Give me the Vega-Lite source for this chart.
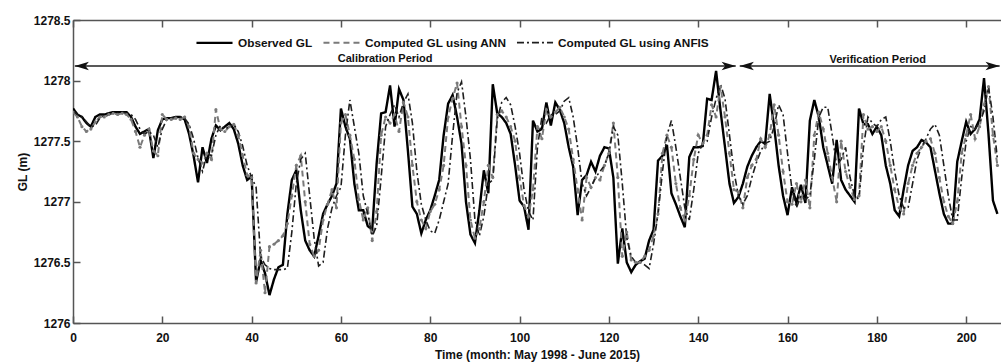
{
"$schema": "https://vega.github.io/schema/vega-lite/v6.json",
"width": 928, "height": 303,
"autosize": {"type": "none"},
"padding": {"left": 73, "top": 20, "right": 0, "bottom": 40},
"background": "white",
"config": {"view": {"stroke": null}, "font": "Liberation Sans",
 "axis": {"labelFont": "Liberation Sans", "labelFontWeight": "bold", "labelFontSize": 12, "labelColor": "#111", "titleFont": "Liberation Sans", "titleFontWeight": "bold", "titleFontSize": 12, "titleColor": "#111", "domainColor": "#555", "domainWidth": 1.5, "tickColor": "#555", "tickWidth": 1.5, "grid": false}},
"datasets": {
"gl": [
{"t":0,"obs":1277.77,"ann":1277.74,"anfis":1277.75},
{"t":1,"obs":1277.72,"ann":1277.70,"anfis":1277.72},
{"t":2,"obs":1277.70,"ann":1277.62,"anfis":1277.70},
{"t":3,"obs":1277.65,"ann":1277.58,"anfis":1277.66},
{"t":4,"obs":1277.62,"ann":1277.60,"anfis":1277.62},
{"t":5,"obs":1277.70,"ann":1277.66,"anfis":1277.63},
{"t":6,"obs":1277.72,"ann":1277.70,"anfis":1277.69},
{"t":7,"obs":1277.72,"ann":1277.70,"anfis":1277.71},
{"t":8,"obs":1277.73,"ann":1277.72,"anfis":1277.72},
{"t":9,"obs":1277.74,"ann":1277.73,"anfis":1277.73},
{"t":10,"obs":1277.74,"ann":1277.72,"anfis":1277.73},
{"t":11,"obs":1277.74,"ann":1277.73,"anfis":1277.74},
{"t":12,"obs":1277.74,"ann":1277.72,"anfis":1277.73},
{"t":13,"obs":1277.70,"ann":1277.68,"anfis":1277.72},
{"t":14,"obs":1277.62,"ann":1277.58,"anfis":1277.68},
{"t":15,"obs":1277.56,"ann":1277.45,"anfis":1277.60},
{"t":16,"obs":1277.58,"ann":1277.55,"anfis":1277.56},
{"t":17,"obs":1277.60,"ann":1277.60,"anfis":1277.58},
{"t":18,"obs":1277.36,"ann":1277.42,"anfis":1277.55},
{"t":19,"obs":1277.59,"ann":1277.38,"anfis":1277.45},
{"t":20,"obs":1277.68,"ann":1277.72,"anfis":1277.60},
{"t":21,"obs":1277.69,"ann":1277.68,"anfis":1277.68},
{"t":22,"obs":1277.69,"ann":1277.68,"anfis":1277.69},
{"t":23,"obs":1277.70,"ann":1277.69,"anfis":1277.70},
{"t":24,"obs":1277.70,"ann":1277.68,"anfis":1277.70},
{"t":25,"obs":1277.68,"ann":1277.70,"anfis":1277.69},
{"t":26,"obs":1277.56,"ann":1277.62,"anfis":1277.64},
{"t":27,"obs":1277.38,"ann":1277.40,"anfis":1277.52},
{"t":28,"obs":1277.16,"ann":1277.35,"anfis":1277.36},
{"t":29,"obs":1277.45,"ann":1277.32,"anfis":1277.25},
{"t":30,"obs":1277.32,"ann":1277.40,"anfis":1277.40},
{"t":31,"obs":1277.52,"ann":1277.35,"anfis":1277.38},
{"t":32,"obs":1277.63,"ann":1277.76,"anfis":1277.55},
{"t":33,"obs":1277.59,"ann":1277.60,"anfis":1277.63},
{"t":34,"obs":1277.62,"ann":1277.58,"anfis":1277.60},
{"t":35,"obs":1277.65,"ann":1277.62,"anfis":1277.62},
{"t":36,"obs":1277.60,"ann":1277.64,"anfis":1277.64},
{"t":37,"obs":1277.48,"ann":1277.55,"anfis":1277.58},
{"t":38,"obs":1277.30,"ann":1277.38,"anfis":1277.46},
{"t":39,"obs":1277.18,"ann":1277.22,"anfis":1277.30},
{"t":40,"obs":1277.21,"ann":1277.20,"anfis":1277.20},
{"t":41,"obs":1276.34,"ann":1276.33,"anfis":1277.12},
{"t":42,"obs":1276.52,"ann":1276.60,"anfis":1276.55},
{"t":43,"obs":1276.41,"ann":1276.25,"anfis":1276.48},
{"t":44,"obs":1276.23,"ann":1276.63,"anfis":1276.45},
{"t":45,"obs":1276.36,"ann":1276.65,"anfis":1276.44},
{"t":46,"obs":1276.46,"ann":1276.68,"anfis":1276.44},
{"t":47,"obs":1276.48,"ann":1276.72,"anfis":1276.44},
{"t":48,"obs":1276.90,"ann":1276.82,"anfis":1276.45},
{"t":49,"obs":1277.18,"ann":1277.05,"anfis":1276.75},
{"t":50,"obs":1277.26,"ann":1277.30,"anfis":1277.15},
{"t":51,"obs":1276.93,"ann":1277.38,"anfis":1277.35},
{"t":52,"obs":1276.68,"ann":1277.00,"anfis":1277.40},
{"t":53,"obs":1276.60,"ann":1276.65,"anfis":1277.05},
{"t":54,"obs":1276.55,"ann":1276.55,"anfis":1276.70},
{"t":55,"obs":1276.72,"ann":1276.60,"anfis":1276.47},
{"t":56,"obs":1276.90,"ann":1276.85,"anfis":1276.50},
{"t":57,"obs":1276.98,"ann":1276.98,"anfis":1276.78},
{"t":58,"obs":1277.05,"ann":1277.10,"anfis":1276.95},
{"t":59,"obs":1277.15,"ann":1276.95,"anfis":1277.05},
{"t":60,"obs":1277.77,"ann":1277.65,"anfis":1277.12},
{"t":61,"obs":1277.62,"ann":1277.72,"anfis":1277.55},
{"t":62,"obs":1277.52,"ann":1277.55,"anfis":1277.84},
{"t":63,"obs":1277.15,"ann":1277.35,"anfis":1277.62},
{"t":64,"obs":1276.93,"ann":1277.02,"anfis":1277.40},
{"t":65,"obs":1276.93,"ann":1276.85,"anfis":1277.05},
{"t":66,"obs":1276.80,"ann":1276.95,"anfis":1276.90},
{"t":67,"obs":1276.77,"ann":1276.68,"anfis":1276.72},
{"t":68,"obs":1277.32,"ann":1276.92,"anfis":1276.80},
{"t":69,"obs":1277.73,"ann":1277.55,"anfis":1277.20},
{"t":70,"obs":1277.74,"ann":1277.70,"anfis":1277.62},
{"t":71,"obs":1277.96,"ann":1277.65,"anfis":1277.72},
{"t":72,"obs":1277.62,"ann":1277.72,"anfis":1277.80},
{"t":73,"obs":1277.93,"ann":1277.58,"anfis":1277.70},
{"t":74,"obs":1277.84,"ann":1277.82,"anfis":1277.82},
{"t":75,"obs":1277.42,"ann":1277.70,"anfis":1277.89},
{"t":76,"obs":1276.96,"ann":1277.30,"anfis":1277.65},
{"t":77,"obs":1276.90,"ann":1277.00,"anfis":1277.25},
{"t":78,"obs":1276.74,"ann":1276.85,"anfis":1276.98},
{"t":79,"obs":1276.85,"ann":1276.78,"anfis":1276.85},
{"t":80,"obs":1276.93,"ann":1276.92,"anfis":1276.76},
{"t":81,"obs":1277.05,"ann":1276.98,"anfis":1276.74},
{"t":82,"obs":1277.18,"ann":1277.10,"anfis":1276.85},
{"t":83,"obs":1277.55,"ann":1277.30,"anfis":1277.00},
{"t":84,"obs":1277.81,"ann":1277.70,"anfis":1277.15},
{"t":85,"obs":1277.88,"ann":1277.85,"anfis":1277.55},
{"t":86,"obs":1277.70,"ann":1277.98,"anfis":1277.90},
{"t":87,"obs":1277.48,"ann":1277.62,"anfis":1277.99},
{"t":88,"obs":1277.00,"ann":1277.30,"anfis":1277.70},
{"t":89,"obs":1276.73,"ann":1276.85,"anfis":1277.35},
{"t":90,"obs":1276.66,"ann":1276.70,"anfis":1276.85},
{"t":91,"obs":1276.93,"ann":1276.78,"anfis":1276.72},
{"t":92,"obs":1277.26,"ann":1277.00,"anfis":1276.88},
{"t":93,"obs":1277.07,"ann":1277.30,"anfis":1277.15},
{"t":94,"obs":1277.97,"ann":1277.20,"anfis":1277.18},
{"t":95,"obs":1277.73,"ann":1277.72,"anfis":1277.68},
{"t":96,"obs":1277.70,"ann":1277.75,"anfis":1277.82},
{"t":97,"obs":1277.65,"ann":1277.70,"anfis":1277.86},
{"t":98,"obs":1277.56,"ann":1277.62,"anfis":1277.80},
{"t":99,"obs":1277.30,"ann":1277.50,"anfis":1277.62},
{"t":100,"obs":1277.01,"ann":1277.20,"anfis":1277.40},
{"t":101,"obs":1276.96,"ann":1276.97,"anfis":1277.10},
{"t":102,"obs":1276.77,"ann":1276.88,"anfis":1276.92},
{"t":103,"obs":1277.67,"ann":1277.10,"anfis":1276.85},
{"t":104,"obs":1277.58,"ann":1277.62,"anfis":1277.45},
{"t":105,"obs":1277.60,"ann":1277.52,"anfis":1277.70},
{"t":106,"obs":1277.82,"ann":1277.76,"anfis":1277.65},
{"t":107,"obs":1277.63,"ann":1277.70,"anfis":1277.72},
{"t":108,"obs":1277.82,"ann":1277.74,"anfis":1277.72},
{"t":109,"obs":1277.76,"ann":1277.78,"anfis":1277.75},
{"t":110,"obs":1277.65,"ann":1277.70,"anfis":1277.83},
{"t":111,"obs":1277.45,"ann":1277.60,"anfis":1277.86},
{"t":112,"obs":1277.29,"ann":1277.35,"anfis":1277.70},
{"t":113,"obs":1276.89,"ann":1277.10,"anfis":1277.45},
{"t":114,"obs":1277.18,"ann":1276.85,"anfis":1277.15},
{"t":115,"obs":1277.22,"ann":1277.20,"anfis":1277.05},
{"t":116,"obs":1277.33,"ann":1277.12,"anfis":1277.12},
{"t":117,"obs":1277.25,"ann":1277.20,"anfis":1277.20},
{"t":118,"obs":1277.38,"ann":1277.18,"anfis":1277.25},
{"t":119,"obs":1277.45,"ann":1277.30,"anfis":1277.30},
{"t":120,"obs":1277.44,"ann":1277.40,"anfis":1277.40},
{"t":121,"obs":1277.20,"ann":1277.65,"anfis":1277.62},
{"t":122,"obs":1276.49,"ann":1277.20,"anfis":1277.55},
{"t":123,"obs":1276.78,"ann":1276.55,"anfis":1277.15},
{"t":124,"obs":1276.50,"ann":1276.75,"anfis":1276.70},
{"t":125,"obs":1276.42,"ann":1276.52,"anfis":1276.55},
{"t":126,"obs":1276.48,"ann":1276.50,"anfis":1276.50},
{"t":127,"obs":1276.51,"ann":1276.50,"anfis":1276.50},
{"t":128,"obs":1276.53,"ann":1276.55,"anfis":1276.48},
{"t":129,"obs":1276.68,"ann":1276.60,"anfis":1276.45},
{"t":130,"obs":1276.77,"ann":1276.72,"anfis":1276.65},
{"t":131,"obs":1277.34,"ann":1276.90,"anfis":1276.90},
{"t":132,"obs":1277.38,"ann":1277.40,"anfis":1277.25},
{"t":133,"obs":1277.47,"ann":1277.55,"anfis":1277.55},
{"t":134,"obs":1277.07,"ann":1277.45,"anfis":1277.67},
{"t":135,"obs":1276.98,"ann":1277.15,"anfis":1277.45},
{"t":136,"obs":1276.88,"ann":1276.95,"anfis":1277.20},
{"t":137,"obs":1276.79,"ann":1276.85,"anfis":1276.95},
{"t":138,"obs":1277.37,"ann":1277.05,"anfis":1276.85},
{"t":139,"obs":1277.45,"ann":1277.35,"anfis":1277.10},
{"t":140,"obs":1277.45,"ann":1277.55,"anfis":1277.40},
{"t":141,"obs":1277.46,"ann":1277.48,"anfis":1277.48},
{"t":142,"obs":1277.85,"ann":1277.55,"anfis":1277.50},
{"t":143,"obs":1277.84,"ann":1277.80,"anfis":1277.70},
{"t":144,"obs":1278.08,"ann":1277.70,"anfis":1277.85},
{"t":145,"obs":1277.75,"ann":1277.95,"anfis":1277.97},
{"t":146,"obs":1277.45,"ann":1277.70,"anfis":1277.85},
{"t":147,"obs":1277.15,"ann":1277.40,"anfis":1277.55},
{"t":148,"obs":1276.99,"ann":1277.10,"anfis":1277.25},
{"t":149,"obs":1277.04,"ann":1277.08,"anfis":1277.05},
{"t":150,"obs":1277.15,"ann":1276.95,"anfis":1276.98},
{"t":151,"obs":1277.29,"ann":1277.20,"anfis":1277.05},
{"t":152,"obs":1277.38,"ann":1277.30,"anfis":1277.20},
{"t":153,"obs":1277.45,"ann":1277.35,"anfis":1277.32},
{"t":154,"obs":1277.50,"ann":1277.52,"anfis":1277.42},
{"t":155,"obs":1277.48,"ann":1277.45,"anfis":1277.48},
{"t":156,"obs":1277.89,"ann":1277.55,"anfis":1277.50},
{"t":157,"obs":1277.62,"ann":1277.80,"anfis":1277.62},
{"t":158,"obs":1277.30,"ann":1277.55,"anfis":1277.80},
{"t":159,"obs":1277.05,"ann":1277.25,"anfis":1277.72},
{"t":160,"obs":1276.89,"ann":1277.00,"anfis":1277.40},
{"t":161,"obs":1277.12,"ann":1276.98,"anfis":1277.10},
{"t":162,"obs":1276.99,"ann":1277.15,"anfis":1276.95},
{"t":163,"obs":1277.14,"ann":1277.00,"anfis":1277.05},
{"t":164,"obs":1276.99,"ann":1277.18,"anfis":1277.02},
{"t":165,"obs":1277.67,"ann":1276.95,"anfis":1277.05},
{"t":166,"obs":1277.84,"ann":1277.55,"anfis":1277.35},
{"t":167,"obs":1277.70,"ann":1277.74,"anfis":1277.70},
{"t":168,"obs":1277.45,"ann":1277.60,"anfis":1277.78},
{"t":169,"obs":1277.30,"ann":1277.40,"anfis":1277.78},
{"t":170,"obs":1277.15,"ann":1277.20,"anfis":1277.55},
{"t":171,"obs":1277.51,"ann":1277.00,"anfis":1277.30},
{"t":172,"obs":1277.18,"ann":1277.50,"anfis":1277.35},
{"t":173,"obs":1277.10,"ann":1277.25,"anfis":1277.45},
{"t":174,"obs":1277.05,"ann":1277.12,"anfis":1277.20},
{"t":175,"obs":1277.00,"ann":1277.02,"anfis":1277.05},
{"t":176,"obs":1277.77,"ann":1277.05,"anfis":1277.02},
{"t":177,"obs":1277.64,"ann":1277.72,"anfis":1277.45},
{"t":178,"obs":1277.64,"ann":1277.60,"anfis":1277.70},
{"t":179,"obs":1277.56,"ann":1277.62,"anfis":1277.65},
{"t":180,"obs":1277.62,"ann":1277.58,"anfis":1277.62},
{"t":181,"obs":1277.55,"ann":1277.62,"anfis":1277.68},
{"t":182,"obs":1277.30,"ann":1277.50,"anfis":1277.70},
{"t":183,"obs":1277.15,"ann":1277.30,"anfis":1277.50},
{"t":184,"obs":1276.93,"ann":1277.10,"anfis":1277.25},
{"t":185,"obs":1276.88,"ann":1276.95,"anfis":1277.05},
{"t":186,"obs":1277.10,"ann":1276.90,"anfis":1276.95},
{"t":187,"obs":1277.30,"ann":1277.15,"anfis":1276.95},
{"t":188,"obs":1277.42,"ann":1277.30,"anfis":1277.15},
{"t":189,"obs":1277.45,"ann":1277.40,"anfis":1277.35},
{"t":190,"obs":1277.51,"ann":1277.45,"anfis":1277.45},
{"t":191,"obs":1277.49,"ann":1277.50,"anfis":1277.52},
{"t":192,"obs":1277.45,"ann":1277.52,"anfis":1277.60},
{"t":193,"obs":1277.26,"ann":1277.40,"anfis":1277.64},
{"t":194,"obs":1277.07,"ann":1277.20,"anfis":1277.55},
{"t":195,"obs":1276.90,"ann":1277.00,"anfis":1277.30},
{"t":196,"obs":1276.82,"ann":1276.88,"anfis":1277.05},
{"t":197,"obs":1276.82,"ann":1276.82,"anfis":1276.85},
{"t":198,"obs":1277.33,"ann":1277.00,"anfis":1276.85},
{"t":199,"obs":1277.50,"ann":1277.40,"anfis":1277.20},
{"t":200,"obs":1277.66,"ann":1277.55,"anfis":1277.50},
{"t":201,"obs":1277.56,"ann":1277.72,"anfis":1277.62},
{"t":202,"obs":1277.60,"ann":1277.52,"anfis":1277.60},
{"t":203,"obs":1277.68,"ann":1277.62,"anfis":1277.65},
{"t":204,"obs":1278.02,"ann":1277.80,"anfis":1277.75},
{"t":205,"obs":1277.56,"ann":1277.95,"anfis":1277.95},
{"t":206,"obs":1277.01,"ann":1277.55,"anfis":1277.70},
{"t":207,"obs":1276.90,"ann":1277.30,"anfis":1277.35}
],
"periods": [
{"period":"Calibration Period","start":0.4,"end":148.4,"level":1278.12,"mid":69.9,"tlevel":1278.18},
{"period":"Verification Period","start":149.3,"end":207.5,"level":1278.12,"mid":180.2,"tlevel":1278.17}
]
},
"layer": [
{
 "data": {"name": "gl"},
 "transform": [{"fold": ["obs", "ann", "anfis"], "as": ["series", "gl"]}],
 "mark": {"type": "line", "clip": true},
 "encoding": {
  "x": {"field": "t", "type": "quantitative", "scale": {"domain": [0, 207.8], "nice": false, "zero": false},
        "axis": {"orient": "bottom", "values": [0,20,40,60,80,100,120,140,160,180,200], "title": "Time (month: May 1998 - June 2015)", "tickSize": -7, "labelPadding": 16, "titlePadding": 6, "labelFlush": false}},
  "y": {"field": "gl", "type": "quantitative", "scale": {"domain": [1276, 1278.5], "nice": false, "zero": false},
        "axis": {"values": [1276,1276.5,1277,1277.5,1278,1278.5], "format": "~f", "title": "GL (m)", "tickSize": -7, "labelPadding": 10, "titlePadding": 4}},
  "color": {"field": "series", "type": "nominal", "scale": {"domain": ["obs","ann","anfis"], "range": ["#000000","#7a7a7a","#1e1e1e"]},
            "legend": {"title": null, "orient": "none", "legendX": 122, "legendY": 3, "direction": "horizontal", "symbolType": "stroke", "symbolSize": 1300, "symbolStrokeWidth": 2, "labelFontSize": 11.8, "labelFontWeight": "bold", "labelFont": "Liberation Sans", "labelColor": "#111", "columnPadding": 6, "labelOffset": 4,
            "labelExpr": "datum.value == 'obs' ? 'Observed GL' : datum.value == 'ann' ? 'Computed GL using ANN' : 'Computed GL using ANFIS'"}},
  "strokeDash": {"field": "series", "type": "nominal", "scale": {"domain": ["obs","ann","anfis"], "range": [[1,0],[6,4],[7,3,2,3]]},
            "legend": {"title": null, "orient": "none", "legendX": 122, "legendY": 3, "direction": "horizontal", "symbolType": "stroke", "symbolSize": 1300, "symbolStrokeWidth": 2, "labelFontSize": 11.8, "labelFontWeight": "bold", "labelFont": "Liberation Sans", "labelColor": "#111", "columnPadding": 6, "labelOffset": 4,
            "labelExpr": "datum.value == 'obs' ? 'Observed GL' : datum.value == 'ann' ? 'Computed GL using ANN' : 'Computed GL using ANFIS'"}},
  "strokeWidth": {"field": "series", "type": "nominal", "scale": {"domain": ["obs","ann","anfis"], "range": [2.4, 1.6, 2.2]}, "legend": null}
 }
},
{
 "data": {"name": "gl"},
 "mark": {"type": "point", "filled": true, "size": 10, "color": "#7a7a7a", "opacity": 1, "clip": true},
 "encoding": {
  "x": {"field": "t", "type": "quantitative", "axis": null},
  "y": {"field": "ann", "type": "quantitative"}
 }
},
{
 "data": {"name": "periods"},
 "mark": {"type": "rule", "color": "#222", "strokeWidth": 1.5},
 "encoding": {
  "x": {"field": "start", "type": "quantitative", "axis": null},
  "x2": {"field": "end"},
  "y": {"field": "level", "type": "quantitative"}
 }
},
{
 "data": {"name": "periods"},
 "transform": [{"fold": ["start", "end"], "as": ["side", "pos"]}],
 "mark": {"type": "point", "filled": true, "opacity": 1, "color": "#111", "size": 200},
 "encoding": {
  "x": {"field": "pos", "type": "quantitative", "axis": null},
  "y": {"field": "level", "type": "quantitative"},
  "shape": {"field": "side", "type": "nominal", "scale": {"domain": ["start","end"], "range": ["M0,0L2,-0.6L1.5,0L2,0.6Z", "M0,0L-2,-0.6L-1.5,0L-2,0.6Z"]}, "legend": null}
 }
},
{
 "data": {"name": "periods"},
 "mark": {"type": "text", "font": "Liberation Sans", "fontWeight": "bold", "fontSize": 11, "color": "#111", "baseline": "middle", "align": "center"},
 "encoding": {
  "x": {"field": "mid", "type": "quantitative", "axis": null},
  "y": {"field": "tlevel", "type": "quantitative"},
  "text": {"field": "period"}
 }
},
{
 "data": {"name": "periods"},
 "mark": {"type": "rule", "opacity": 0},
 "encoding": {
  "x": {"field": "start", "type": "quantitative", "axis": {"orient": "top", "values": [0,20,40,60,80,100,120,140,160,180,200], "labels": false, "title": null, "tickSize": -7}},
  "y": {"field": "level", "type": "quantitative"}
 }
}
],
"resolve": {"axis": {"x": "independent"}}
}
